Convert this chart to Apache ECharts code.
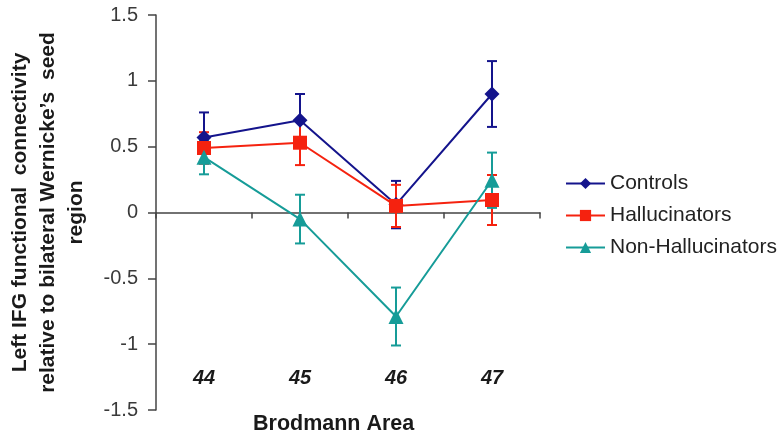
<!DOCTYPE html>
<html>
<head>
<meta charset="utf-8">
<script src="https://cdn.jsdelivr.net/npm/echarts@6/dist/echarts.min.js"></script>
<style>
html,body{margin:0;padding:0;background:#fff;}
#c{width:783px;height:439px;}
</style>
</head>
<body>
<div id="c"></div>
<script>
var categories = ['44', '45', '46', '47'];
var controls = [0.57, 0.70, 0.06, 0.90];
var controlsErr = [0.19, 0.20, 0.18, 0.25];
var hallucinators = [0.49, 0.53, 0.05, 0.095];
var hallucinatorsErr = [0.12, 0.17, 0.16, 0.19];
var nonHallucinators = [0.42, -0.05, -0.79, 0.245];
var nonHallucinatorsErr = [0.13, 0.185, 0.22, 0.21];
var yTicks = [-1.5, -1, -0.5, 0, 0.5, 1, 1.5];

var seriesDefs = [
  {name: 'Controls', values: controls, err: controlsErr, color: '#14148c', symbol: 'diamond', size: 15},
  {name: 'Hallucinators', values: hallucinators, err: hallucinatorsErr, color: '#f5220f', symbol: 'rect', size: 14},
  {name: 'Non-Hallucinators', values: nonHallucinators, err: nonHallucinatorsErr, color: '#169c98', symbol: 'triangle', size: 15}
];

function errData(values, err) {
  return values.map(function (v, i) { return [i, v - err[i], v + err[i]]; });
}

function makeErrSeries(def) {
  return {
    type: 'custom',
    name: def.name + ' err',
    xAxisIndex: 0,
    yAxisIndex: 0,
    data: errData(def.values, def.err),
    encode: {x: 0, y: [1, 2]},
    silent: true,
    renderItem: function (params, api) {
      var lo = api.coord([api.value(0), api.value(1)]);
      var hi = api.coord([api.value(0), api.value(2)]);
      var hw = 5;
      var st = {stroke: def.color, lineWidth: 2};
      return {
        type: 'group',
        children: [
          {type: 'line', shape: {x1: lo[0], y1: lo[1], x2: hi[0], y2: hi[1]}, style: st},
          {type: 'line', shape: {x1: lo[0] - hw, y1: lo[1], x2: lo[0] + hw, y2: lo[1]}, style: st},
          {type: 'line', shape: {x1: hi[0] - hw, y1: hi[1], x2: hi[0] + hw, y2: hi[1]}, style: st}
        ]
      };
    }
  };
}

var series = [];
seriesDefs.forEach(function (d) {
  series.push(makeErrSeries(d));
  series.push({
    type: 'line',
    name: d.name,
    xAxisIndex: 0,
    yAxisIndex: 0,
    data: d.values,
    symbol: d.symbol,
    symbolSize: d.size,
    lineStyle: {color: d.color, width: 2},
    itemStyle: {color: d.color},
    emphasis: {disabled: true}
  });
});

var FONT = 'Liberation Sans, Arial, sans-serif';
var chart = echarts.init(document.getElementById('c'), null, {renderer: 'canvas'});
chart.setOption({
  animation: false,
  backgroundColor: '#fff',
  textStyle: {fontFamily: FONT},
  grid: {left: 156, right: 243, top: 15, bottom: 29},
  legend: {
    orient: 'vertical',
    left: 560,
    top: 168,
    itemWidth: 39,
    itemHeight: 14,
    itemGap: 11,
    data: seriesDefs.map(function (d) { return d.name; }),
    textStyle: {fontSize: 21, color: '#222', fontFamily: FONT}
  },
  xAxis: [
    {
      type: 'category',
      data: categories,
      boundaryGap: true,
      axisLine: {onZero: true, lineStyle: {color: '#444', width: 1.5}},
      axisTick: {show: true, length: 6, lineStyle: {color: '#444', width: 1.5}},
      axisLabel: {show: false},
      splitLine: {show: false}
    },
    {
      type: 'category',
      data: categories,
      position: 'bottom',
      boundaryGap: true,
      axisLine: {show: false, onZero: false},
      axisTick: {show: false},
      axisLabel: {
        inside: true,
        margin: 22,
        fontSize: 20,
        fontWeight: 'bold',
        fontStyle: 'italic',
        color: '#1a1a1a'
      },
      splitLine: {show: false}
    }
  ],
  yAxis: {
    type: 'value',
    min: -1.5,
    max: 1.5,
    interval: 0.5,
    axisLine: {show: true, lineStyle: {color: '#444', width: 1.5}},
    axisTick: {show: true, length: 8, lineStyle: {color: '#444', width: 1.5}},
    axisLabel: {
      fontSize: 20,
      color: '#3a3a3a',
      margin: 18,
      formatter: function (v) {
        var t = yTicks.filter(function (x) { return Math.abs(x - v) < 1e-9; });
        return t.length ? String(t[0]) : '';
      }
    },
    splitLine: {show: false},
    name: 'Left IFG functional  connectivity\nrelative to bilateral Wernicke\u2019s  seed\nregion',
    nameLocation: 'middle',
    nameRotate: 90,
    nameGap: 66,
    nameTextStyle: {fontSize: 21, fontWeight: 'bold', color: '#1a1a1a', lineHeight: 28, align: 'center'}
  },
  graphic: [
    {
      type: 'text',
      left: 253,
      top: 413,
      style: {text: 'Brodmann Area', fill: '#1a1a1a', font: 'bold 21.5px Liberation Sans, Arial, sans-serif'}
    }
  ],
  series: series
});
</script>
</body>
</html>
